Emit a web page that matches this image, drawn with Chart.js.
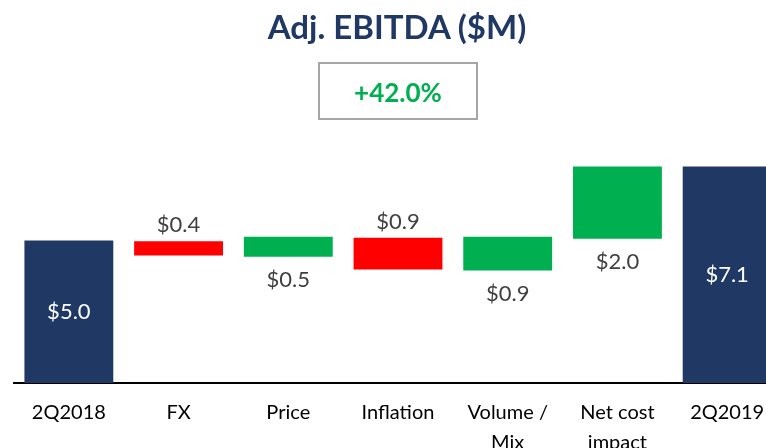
<!DOCTYPE html>
<html>
<head>
<meta charset="utf-8">
<script src="https://cdn.jsdelivr.net/npm/chart.js@4.4.1/dist/chart.umd.min.js"></script>
<style>
  html, body { margin: 0; padding: 0; background: #fff; overflow: hidden; }
  #wrap { position: relative; width: 790px; height: 477px; }
  #title {
    position: absolute; left: 0; top: 6px; width: 794px; text-align: center;
    font: bold 33px Lato, sans-serif; color: #1f3864;
  }
  #growth {
    position: absolute; left: 318px; top: 62px; width: 156px; height: 54px;
    border: 2px solid #a6a6a6; text-align: center;
    font: bold 26px Lato, sans-serif; line-height: 56px; color: #00b050;
  }
</style>
</head>
<body>
<div id="wrap">
  <canvas id="myChart"></canvas>
  <div id="title">Adj. EBITDA ($M)</div>
  <div id="growth">+42.0%</div>
</div>
<script>
// categories and values (in $M)
const categories = ["2Q2018", "FX", "Price", "Inflation", ["Volume /", "Mix"], ["Net cost", "impact"], "2Q2019"];
const amounts = [5.0, -0.4, 0.5, -0.9, 0.9, 2.0, 7.1];
const isTotal = [true, false, false, false, false, false, true];
// bar extents as drawn on the slide
const barFrom = [0, 4.47, 4.43, 3.98, 3.95, 5.06, 0];
const barTo = [5.0, 4.97, 5.13, 5.10, 5.13, 7.60, 7.60];

const navy = "#1f3864";
const red = "#ff0000";
const green = "#00b050";

const colors = amounts.map(function (v, i) {
  if (isTotal[i]) return navy;
  return v < 0 ? red : green;
});

const valueLabels = {
  id: "valueLabels",
  afterDatasetsDraw: function (chart) {
    const ctx = chart.ctx;
    const meta = chart.getDatasetMeta(0);
    ctx.save();
    ctx.font = "22px Lato, sans-serif";
    ctx.textAlign = "center";
    ctx.textBaseline = "middle";
    meta.data.forEach(function (bar, i) {
      const text = "$" + Math.abs(amounts[i]).toFixed(1);
      const top = Math.min(bar.y, bar.base);
      const bottom = Math.max(bar.y, bar.base);
      let y;
      if (isTotal[i]) {
        ctx.fillStyle = "#ffffff";
        y = (top + bottom) / 2;
      } else if (amounts[i] < 0) {
        ctx.fillStyle = "#404040";
        y = top - 16;
      } else {
        ctx.fillStyle = "#404040";
        y = bottom + 23;
      }
      ctx.fillText(text, bar.x, y);
    });
    ctx.restore();
  },
};

var ctx = document.getElementById("myChart").getContext("2d");
var myChart = new Chart(ctx, {
  type: "bar",
  data: {
    labels: categories,
    datasets: [
      {
        data: barFrom.map(function (v, i) { return [v, barTo[i]]; }),
        backgroundColor: colors,
        borderWidth: 0,
        barPercentage: 0.81,
        categoryPercentage: 1,
      },
    ],
  },
  options: {
    responsive: true,
    maintainAspectRatio: false,
    animation: false,
    layout: { padding: { left: 14, right: 8, top: 155, bottom: 4 } },
    plugins: {
      legend: { display: false },
      tooltip: { enabled: false },
    },
    scales: {
      x: {
        grid: { display: false, drawTicks: false },
        border: { display: true, color: "#000000", width: 2 },
        ticks: {
          color: "#000000",
          padding: 15,
          maxRotation: 0,
          autoSkip: false,
          font: { family: "Lato", size: 20, lineHeight: 1.5 },
        },
      },
      y: {
        display: false,
        min: 0,
        max: 8,
      },
    },
  },
  plugins: [valueLabels],
});
</script>
</body>
</html>
